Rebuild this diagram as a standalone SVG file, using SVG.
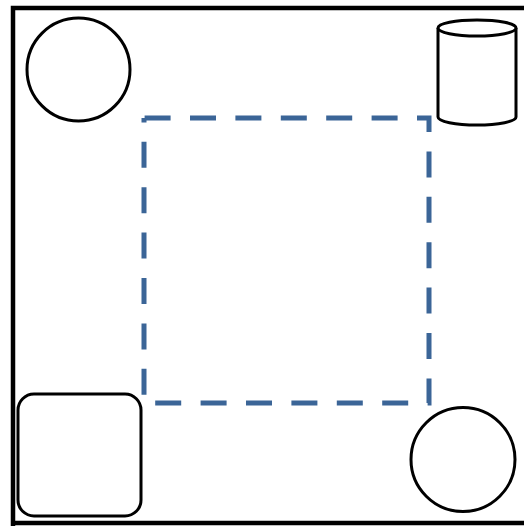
<svg xmlns="http://www.w3.org/2000/svg" width="524" height="526" viewBox="0 0 524 526">
<style>
.shape{fill:#ffffff;stroke:#000000;stroke-width:3}
.frame{fill:none;stroke:#000000;stroke-width:4.5}
.group{fill:none;stroke:#3b6597;stroke-width:5;stroke-dasharray:26 19.4;stroke-dashoffset:-0.6}
</style>
<rect width="524" height="526" fill="#ffffff"/>
<g id="frame">
<path class="frame" d="M13,526 V8 H524 M11,523 H524"/>
</g>
<g id="group-boundary">
<path class="group" d="M144,118 H429 V403 H144 Z"/>
</g>
<g id="circle-top-left">
<circle class="shape" cx="78.5" cy="69.5" r="51.5"/>
</g>
<g id="database">
<path class="shape" d="M438,28 V117 A39,8 0 0 0 516,117 V28"/>
<ellipse class="shape" cx="477" cy="28" rx="39" ry="8"/>
</g>
<g id="rounded-square">
<rect class="shape" x="18" y="394" width="123" height="122" rx="16"/>
</g>
<g id="circle-bottom-right">
<circle class="shape" cx="463" cy="459.5" r="52"/>
</g>
<g id="connectors"></g>
</svg>
